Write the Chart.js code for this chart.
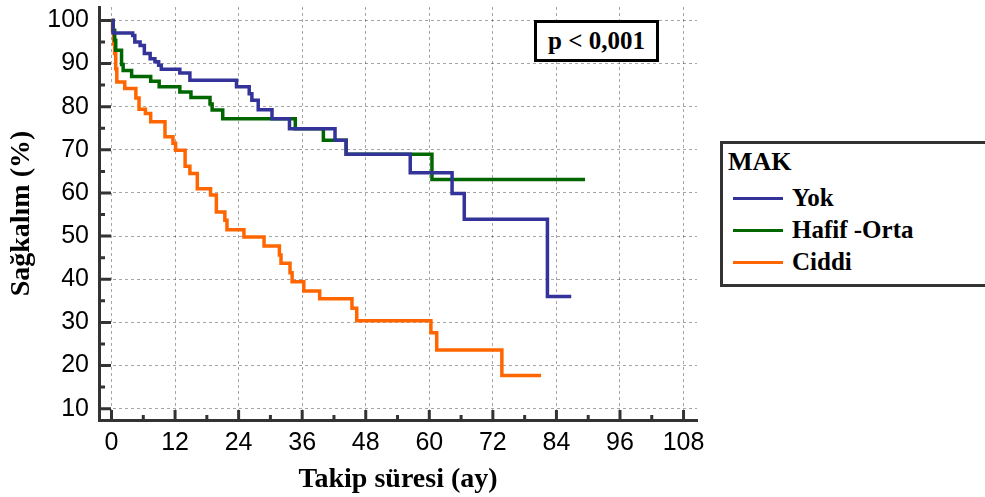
<!DOCTYPE html>
<html>
<head>
<meta charset="utf-8">
<script src="https://cdn.jsdelivr.net/npm/chart.js@4.4.0/dist/chart.umd.min.js"></script>
<style>
  html, body { margin: 0; padding: 0; background: #fff; }
  #wrap { position: relative; width: 985px; height: 497px; overflow: hidden; }
  #km { position: absolute; left: 0; top: 0; }
  .serif { font-family: 'Liberation Serif', 'Times New Roman', serif; font-weight: bold; color: #000; }
  #pbox {
    position: absolute; left: 534px; top: 20px; width: 119px; height: 36px;
    border: 3px solid #000; background: #fff;
    font-size: 25px; line-height: 36px; text-align: center;
  }
  #legend {
    position: absolute; left: 720px; top: 141px; width: 320px; height: 140px;
    border: 3px solid #333; border-right: none; background: #fff;
  }
  #legend .row { position: absolute; left: 0; height: 32px; line-height: 32px; font-size: 25px; white-space: nowrap; }
  #legend .title { left: 5px; font-size: 26px; }
  #legend .swatch { position: absolute; left: 10px; top: 15px; width: 50px; height: 3px; }
  #legend .label { position: absolute; left: 69px; top: 0; }
</style>
</head>
<body>
<div id="wrap">
  <canvas id="km" width="985" height="497"></canvas>
  <div id="pbox" class="serif"></div>
  <div id="legend" class="serif"></div>
</div>
<script>
// ── Data ────────────────────────────────────────────────────────────────────

const legendTitle = 'MAK';
const pValueText = 'p < 0,001';
const xTitle = 'Takip süresi (ay)';
const yTitle = 'Sağkalım (%)';

const xTicks = [0, 12, 24, 36, 48, 60, 72, 84, 96, 108];
const yTicks = [10, 20, 30, 40, 50, 60, 70, 80, 90, 100];

const seriesNames = ['Yok', 'Hafif -Orta', 'Ciddi'];
const seriesColors = ['#333399', '#006600', '#ff6600'];

// time (months) at which survival drops to the value at the same index
const yokTimes = [0, 0.3, 4.0, 4.4, 5.4, 6.2, 7.3, 8.2, 8.9, 9.4, 12.9, 14.8, 23.6, 26.0, 26.5, 27.7, 30.3, 33.6, 42.2, 44.3, 56.4, 64.3, 66.6, 82.3, 86.8];
const yokSurv  = [100, 97.1, 96.5, 95.0, 94.2, 92.3, 91.1, 90.4, 89.6, 88.7, 87.8, 86.1, 84.6, 83.0, 81.5, 79.3, 77.2, 74.9, 72.2, 69.0, 64.7, 59.9, 53.9, 36.0, 36.0];

const hafifTimes = [0, 0.3, 0.6, 0.8, 1.9, 2.2, 3.8, 7.4, 9.0, 12.9, 15.0, 18.6, 19.0, 21.0, 34.7, 40.0, 44.3, 60.5, 89.4];
const hafifSurv  = [100, 97.7, 95.4, 93.1, 89.8, 88.4, 87.0, 85.9, 84.6, 83.4, 82.1, 80.6, 79.2, 77.2, 74.9, 72.2, 69.0, 63.1, 63.1];

const ciddiTimes = [0, 0.2, 0.4, 0.6, 0.8, 1.0, 2.5, 4.6, 5.2, 6.4, 7.4, 10.1, 11.6, 12.1, 13.9, 14.8, 16.2, 18.7, 19.8, 21.4, 21.8, 25.0, 28.8, 31.7, 32.0, 33.7, 34.1, 36.3, 39.3, 45.4, 46.3, 60.3, 61.4, 73.7, 81.1];
const ciddiSurv  = [100, 97.5, 94.6, 92.3, 88.8, 85.7, 84.2, 82.0, 79.4, 78.4, 76.5, 73.0, 71.5, 69.9, 66.2, 64.5, 61.0, 59.5, 55.6, 53.7, 51.5, 49.8, 47.7, 45.6, 43.7, 41.5, 39.4, 37.3, 35.5, 33.3, 30.4, 27.6, 23.6, 17.7, 17.7];

const xMinorStep = 6;
const yMinorStep = 5;

// ── Helpers ─────────────────────────────────────────────────────────────────

function toPoints(times, surv) {
  return times.map((t, i) => ({ x: t, y: surv[i] }));
}

const seriesData = [
  toPoints(yokTimes, yokSurv),
  toPoints(hafifTimes, hafifSurv),
  toPoints(ciddiTimes, ciddiSurv)
];

// ticks are drawn pointing into the plot, major + minor
const inwardTicks = {
  id: 'inwardTicks',
  afterDraw(chart) {
    const { ctx, chartArea, scales: { x, y } } = chart;
    ctx.save();
    ctx.strokeStyle = '#333';
    ctx.lineWidth = 3;
    ctx.beginPath();
    for (let v = xTicks[0]; v <= xTicks[xTicks.length - 1]; v += xMinorStep) {
      const px = x.getPixelForValue(v);
      const len = xTicks.includes(v) ? 10 : 5;
      ctx.moveTo(px, chartArea.bottom);
      ctx.lineTo(px, chartArea.bottom - len);
    }
    for (let v = yTicks[0]; v <= yTicks[yTicks.length - 1]; v += yMinorStep) {
      const py = y.getPixelForValue(v);
      const len = yTicks.includes(v) ? 12 : 6;
      ctx.moveTo(chartArea.left, py);
      ctx.lineTo(chartArea.left + len, py);
    }
    ctx.stroke();
    ctx.restore();
  }
};

const tickFont = { family: "'Liberation Sans', Arial, sans-serif", size: 25 };
const titleFont = { family: "'Liberation Serif', 'Times New Roman', serif", size: 28, weight: 'bold' };
const gridStyle = { color: 'rgba(0,0,0,0.35)', lineWidth: 1, drawTicks: false };
const borderStyle = { display: true, color: '#333', width: 3, dash: [3, 3] };

// ── Chart ───────────────────────────────────────────────────────────────────

new Chart(document.getElementById('km').getContext('2d'), {
  type: 'line',
  data: {
    datasets: seriesNames.map((name, i) => ({
      label: name,
      data: seriesData[i],
      borderColor: seriesColors[i],
      backgroundColor: seriesColors[i],
      borderWidth: 3.5,
      pointRadius: 0,
      stepped: 'before',
      fill: false,
      tension: 0
    }))
  },
  options: {
    responsive: false,
    animation: false,
    devicePixelRatio: 1,
    layout: { padding: { top: 7, right: 288, left: 0, bottom: 0 } },
    plugins: {
      legend: { display: false },
      tooltip: { enabled: false }
    },
    scales: {
      x: {
        type: 'linear',
        min: -2.36,
        max: 110.54,
        afterBuildTicks: s => { s.ticks = xTicks.map(v => ({ value: v })); },
        afterFit: s => { s.height = 77; s.paddingLeft = 0; s.paddingRight = 0; },
        ticks: { font: tickFont, color: '#000', padding: 8, maxRotation: 0 },
        grid: gridStyle,
        border: borderStyle,
        title: { display: true, text: xTitle, font: titleFont, color: '#000', padding: { top: 0, bottom: 0 } }
      },
      y: {
        type: 'linear',
        min: 7.38,
        max: 103.1,
        afterBuildTicks: s => { s.ticks = yTicks.map(v => ({ value: v })); },
        afterFit: s => { s.width = 99; s.paddingTop = 0; s.paddingBottom = 0; },
        ticks: { font: tickFont, color: '#000', padding: 10 },
        grid: gridStyle,
        border: borderStyle,
        title: { display: true, text: yTitle, font: titleFont, color: '#000', padding: { top: 5, bottom: 0 } }
      }
    }
  },
  plugins: [inwardTicks]
});

// ── Overlays: p value box and legend ───────────────────────────────────────

document.getElementById('pbox').textContent = pValueText;

const legend = document.getElementById('legend');
const titleRow = document.createElement('div');
titleRow.className = 'row title';
titleRow.style.top = '2px';
titleRow.textContent = legendTitle;
legend.appendChild(titleRow);

seriesNames.forEach((name, i) => {
  const row = document.createElement('div');
  row.className = 'row';
  row.style.top = (38 + i * 32) + 'px';
  row.style.width = '100%';

  const sw = document.createElement('div');
  sw.className = 'swatch';
  sw.style.backgroundColor = seriesColors[i];

  const lbl = document.createElement('div');
  lbl.className = 'label';
  lbl.textContent = name;

  row.appendChild(sw);
  row.appendChild(lbl);
  legend.appendChild(row);
});
</script>
</body>
</html>
